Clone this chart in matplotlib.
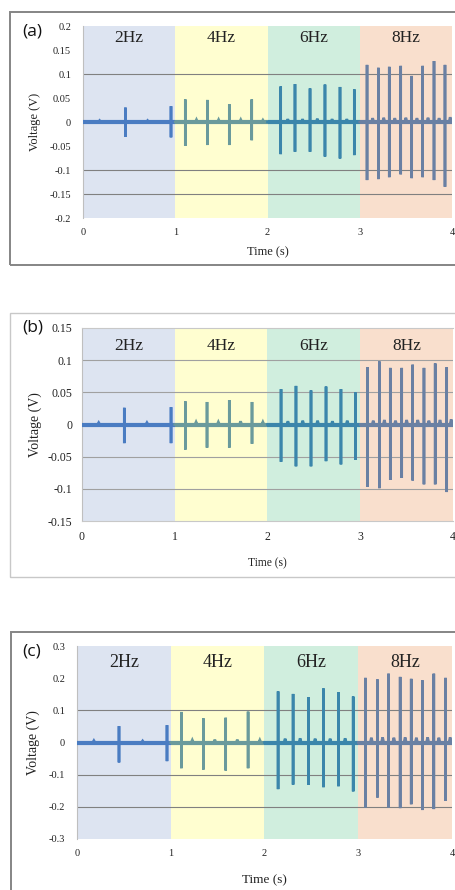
"""Voltage response to 2/4/6/8 Hz excitation, three panels (a)-(c)."""

import matplotlib
matplotlib.use("Agg")
import matplotlib.pyplot as plt
from matplotlib.patches import Rectangle
from matplotlib.ticker import FuncFormatter

plt.rcParams["axes.unicode_minus"] = False

REGION_LABELS = ["2Hz", "4Hz", "6Hz", "8Hz"]
REGION_EDGES = [0, 1, 2, 3, 4]
REGION_BG = ["#dde4f1", "#fffed0", "#d0eede", "#f9dfcd"]
TRACE_COLORS = ["#4a7cc2", "#6a9a9c", "#3b86ab", "#6a80a3"]

# spike times (s), same stimulus for every panel
SPIKE_T_A = [0.46, 0.954, 1.109, 1.348, 1.586, 1.829, 2.143, 2.298, 2.461, 2.623,
             2.786, 2.941, 3.079, 3.202, 3.32, 3.444, 3.563, 3.682, 3.805, 3.924]
SPIKE_HI_A = [0.030, 0.033, 0.047, 0.046, 0.037, 0.047, 0.074, 0.079, 0.070, 0.078,
              0.073, 0.068, 0.119, 0.113, 0.115, 0.117, 0.096, 0.117, 0.127, 0.119]
SPIKE_LO_A = [-0.031, -0.032, -0.050, -0.048, -0.048, -0.038, -0.067, -0.062, -0.062, -0.072,
              -0.076, -0.069, -0.121, -0.119, -0.115, -0.109, -0.117, -0.115, -0.121, -0.135]

SPIKE_T_B = [0.456, 0.96, 1.114, 1.348, 1.588, 1.833, 2.146, 2.307, 2.469, 2.631,
             2.792, 2.947, 3.080, 3.206, 3.324, 3.447, 3.565, 3.687, 3.808, 3.932]
SPIKE_HI_B = [0.026, 0.027, 0.036, 0.035, 0.038, 0.035, 0.055, 0.060, 0.053, 0.059,
              0.055, 0.050, 0.089, 0.098, 0.088, 0.088, 0.093, 0.088, 0.095, 0.089]
SPIKE_LO_B = [-0.029, -0.029, -0.039, -0.036, -0.036, -0.030, -0.058, -0.065, -0.065, -0.057,
              -0.062, -0.055, -0.097, -0.099, -0.086, -0.083, -0.087, -0.093, -0.093, -0.105]

SPIKE_T_C = [0.448, 0.96, 1.113, 1.348, 1.586, 1.825, 2.145, 2.305, 2.469, 2.629,
             2.789, 2.946, 3.077, 3.205, 3.323, 3.447, 3.565, 3.685, 3.806, 3.931]
SPIKE_HI_C = [0.051, 0.054, 0.095, 0.075, 0.077, 0.096, 0.159, 0.151, 0.141, 0.168,
              0.157, 0.143, 0.201, 0.196, 0.214, 0.204, 0.198, 0.193, 0.214, 0.201]
SPIKE_LO_C = [-0.062, -0.058, -0.080, -0.084, -0.087, -0.080, -0.145, -0.131, -0.132, -0.139,
              -0.136, -0.152, -0.202, -0.171, -0.202, -0.204, -0.192, -0.210, -0.207, -0.181]

# small ripples on the baseline between spikes
BUMP_T = [0.18, 0.70, 1.23, 1.47, 1.71, 1.95, 2.22, 2.38, 2.54, 2.70, 2.86,
          3.14, 3.26, 3.38, 3.50, 3.62, 3.74, 3.86, 3.98]
BUMP_V_A = [0.003, 0.003, 0.005, 0.005, 0.005, 0.004, 0.006, 0.006, 0.007, 0.006, 0.006,
            0.008, 0.009, 0.008, 0.009, 0.008, 0.009, 0.008, 0.010]
BUMP_V_B = [0.003, 0.003, 0.004, 0.004, 0.005, 0.004, 0.005, 0.006, 0.006, 0.005, 0.006,
            0.006, 0.007, 0.006, 0.007, 0.007, 0.006, 0.007, 0.008]
BUMP_V_C = [0.006, 0.005, 0.008, 0.009, 0.009, 0.008, 0.012, 0.013, 0.012, 0.012, 0.013,
            0.015, 0.016, 0.015, 0.016, 0.015, 0.016, 0.015, 0.016]

PANELS = [
    dict(tag="(a)", t=SPIKE_T_A, hi=SPIKE_HI_A, lo=SPIKE_LO_A, bump=BUMP_V_A,
         ylim=(-0.2, 0.2), yticks=[-0.2, -0.15, -0.1, -0.05, 0, 0.05, 0.1, 0.15, 0.2],
         grid=[0.1, -0.1, -0.15], label_y=0.175,
         rect=[83 / 456, 1 - 218 / 890, 369 / 456, 192 / 890],
         box=(10, 12, 470, 265), box_color="#858585", box_lw=1.4,
         grid_color="#808080", fs_tick=7.5, fs_reg=12.5, fs_ylab=9.0, fs_xlab=9.0,
         ypad=8.6, xpad=7.5, ylab_x=-0.13, xlab_y=-0.177, tag_xy=(22, 32)),
    dict(tag="(b)", t=SPIKE_T_B, hi=SPIKE_HI_B, lo=SPIKE_LO_B, bump=BUMP_V_B,
         ylim=(-0.15, 0.15), yticks=[-0.15, -0.1, -0.05, 0, 0.05, 0.1, 0.15],
         grid=[0.1, 0.05, -0.05, -0.1], label_y=0.122,
         rect=[82 / 456, 1 - 521 / 890, 371 / 456, 193 / 890],
         box=(10, 313, 470, 577), box_color="#c8c8c8", box_lw=1.0,
         grid_color="#a0a0a0", fs_tick=8.5, fs_reg=12.5, fs_ylab=10.0, fs_xlab=8.3,
         ypad=7.0, xpad=7.0, ylab_x=-0.127, xlab_y=-0.218, tag_xy=(22, 328)),
    dict(tag="(c)", t=SPIKE_T_C, hi=SPIKE_HI_C, lo=SPIKE_LO_C, bump=BUMP_V_C,
         ylim=(-0.3, 0.3), yticks=[-0.3, -0.2, -0.1, 0, 0.1, 0.2, 0.3],
         grid=[0.1, -0.1, -0.2], label_y=0.249,
         rect=[77 / 456, 1 - 839 / 890, 375 / 456, 193 / 890],
         box=(11, 632, 470, 900), box_color="#858585", box_lw=1.4,
         grid_color="#808080", fs_tick=7.5, fs_reg=13.0, fs_ylab=10.0, fs_xlab=9.5,
         ypad=8.6, xpad=7.0, ylab_x=-0.117, xlab_y=-0.212, tag_xy=(22, 651)),
]

W, H = 456, 890


def fmt_tick(v, _pos):
    if abs(v) < 1e-9:
        return "0"
    return f"{v:g}"


def build_trace(t0, t1, spike_t, hi, lo, bump_v):
    xs, ys = [t0], [0.0]
    events = []
    for t, a, b in zip(spike_t, hi, lo):
        if t0 <= t < t1:
            events.append((t, "spike", a, b))
    for t, v in zip(BUMP_T, bump_v):
        if t0 <= t < t1:
            events.append((t, "bump", v, None))
    events.sort(key=lambda e: e[0])
    for t, kind, a, b in events:
        if kind == "spike":
            xs += [t, t, t, t]
            ys += [0.0, a, b, 0.0]
        else:
            xs += [t - 0.012, t, t + 0.012]
            ys += [0.0, a, 0.0]
    xs.append(t1)
    ys.append(0.0)
    return xs, ys


fig = plt.figure(figsize=(W / 100, H / 100), dpi=100)

for p in PANELS:
    x0, y0, x1, y1 = p["box"]
    fig.patches.append(Rectangle((x0 / W, 1 - y1 / H), (x1 - x0) / W, (y1 - y0) / H,
                                 transform=fig.transFigure, fill=False,
                                 edgecolor=p["box_color"], lw=p["box_lw"]))

    ax = fig.add_axes(p["rect"])
    ax.set_xlim(0, 4)
    ax.set_ylim(*p["ylim"])

    for i, lab in enumerate(REGION_LABELS):
        a, b = REGION_EDGES[i], REGION_EDGES[i + 1]
        ax.axvspan(a, b, color=REGION_BG[i], lw=0, zorder=0)
        ax.text((a + b) / 2, p["label_y"], lab, ha="center", va="center",
                fontsize=p["fs_reg"], family="Liberation Serif", color="#222222",
                zorder=4)
        xs, ys = build_trace(a, b, p["t"], p["hi"], p["lo"], p["bump"])
        ax.plot(xs, ys, color=TRACE_COLORS[i], lw=1.9, zorder=3,
                solid_joinstyle="miter")
        ax.hlines(0, a, b, color=TRACE_COLORS[i], lw=3.0, zorder=3)

    for g in p["grid"]:
        ax.axhline(g, color=p["grid_color"], lw=0.8, zorder=1)

    ax.set_xticks([0, 1, 2, 3, 4])
    ax.set_yticks(p["yticks"])
    ax.yaxis.set_major_formatter(FuncFormatter(fmt_tick))
    ax.tick_params(length=0, labelsize=p["fs_tick"], colors="#222222")
    ax.tick_params(axis="y", pad=p["ypad"])
    ax.tick_params(axis="x", pad=p["xpad"])
    for lbl in ax.get_xticklabels() + ax.get_yticklabels():
        lbl.set_family("Liberation Serif")

    for side in ["top", "right", "bottom"]:
        ax.spines[side].set_visible(False)
    ax.spines["left"].set_color("#bfbfbf")
    ax.spines["left"].set_linewidth(0.8)
    if p["tag"] == "(b)":
        for side in ["top", "bottom"]:
            ax.spines[side].set_visible(True)
            ax.spines[side].set_color("#c8c8c8")
            ax.spines[side].set_linewidth(0.8)

    ax.set_ylabel("Voltage (V)", family="Liberation Serif", fontsize=p["fs_ylab"],
                  color="#222222")
    ax.yaxis.set_label_coords(p["ylab_x"], 0.5)
    ax.yaxis.label.set_va("center")
    ax.set_xlabel("Time (s)", family="Liberation Serif", fontsize=p["fs_xlab"],
                  color="#222222")
    ax.xaxis.set_label_coords(0.5, p["xlab_y"])
    ax.xaxis.label.set_va("center")

    tx, ty = p["tag_xy"]
    fig.text(tx / W, 1 - ty / H, p["tag"], ha="left", va="center",
             fontsize=12.5, family="Open Sans", color="#111111")

fig.savefig("out.png", dpi=100)
